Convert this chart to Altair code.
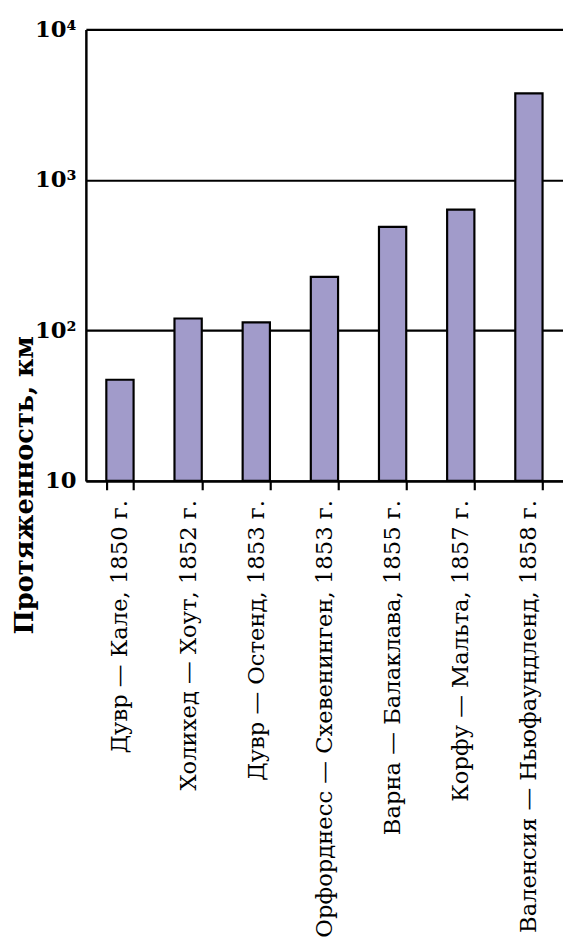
import altair as alt
import pandas as pd

routes = [
    "Дувр — Кале, 1850 г.",
    "Холихед — Хоут, 1852 г.",
    "Дувр — Остенд, 1853 г.",
    "Орфорднесс — Схевенинген, 1853 г.",
    "Варна — Балаклава, 1855 г.",
    "Корфу — Мальта, 1857 г.",
    "Валенсия — Ньюфаундленд, 1858 г.",
]
lengths_km = [47, 120, 113, 227, 487, 635, 3760]
y_ticks = [10, 100, 1000, 10000]
y_base = 10

df = pd.DataFrame({"route": routes, "length": lengths_km})

FONT = "DejaVu Serif"

chart = (
    alt.Chart(df)
    .mark_bar(fill="#a19bca", stroke="black", strokeWidth=2.2)
    .encode(
        x=alt.X(
            "route:N",
            sort=None,
            title=None,
            scale=alt.Scale(paddingInner=0.6, paddingOuter=0.3),
            axis=alt.Axis(
                labelAngle=-90,
                tickBand="extent",
                labelFont=FONT,
                labelFontSize=23,
                labelColor="black",
                labelPadding=10,
                labelLimit=700,
                domainColor="black",
                domainWidth=2.5,
                tickColor="black",
                tickWidth=2.2,
                tickSize=9,
                grid=False,
            ),
        ),
        y=alt.Y(
            "length:Q",
            title="Протяженность, км",
            scale=alt.Scale(type="log", domain=[10, 10000], nice=False),
            axis=alt.Axis(
                values=y_ticks,
                labelExpr="datum.value == 10 ? '10' : datum.value == 100 ? '10²' : datum.value == 1000 ? '10³' : '10⁴'",
                labelFont=FONT,
                labelFontSize=23,
                labelFontWeight="bold",
                labelColor="black",
                labelPadding=10,
                ticks=False,
                domainColor="black",
                domainWidth=2.5,
                grid=True,
                gridColor="black",
                gridWidth=2.2,
                gridOpacity=1,
                titleFont=FONT,
                titleFontSize=26,
                titleFontWeight="bold",
                titleColor="black",
                titleAngle=-90,
                titleAlign="center",
                titleBaseline="middle",
                titleX=-62,
                titleY=462,
            ),
        ),
        y2=alt.datum(y_base),
    )
    .properties(
        width=484,
        height=458,
        autosize=alt.AutoSizeParams(type="none"),
        padding={"left": 79, "top": 15, "right": 0, "bottom": 458},
        background="white",
    )
    .configure_view(strokeWidth=0)
)

chart.save("out.html", embed_options={"renderer": "svg", "actions": False})
